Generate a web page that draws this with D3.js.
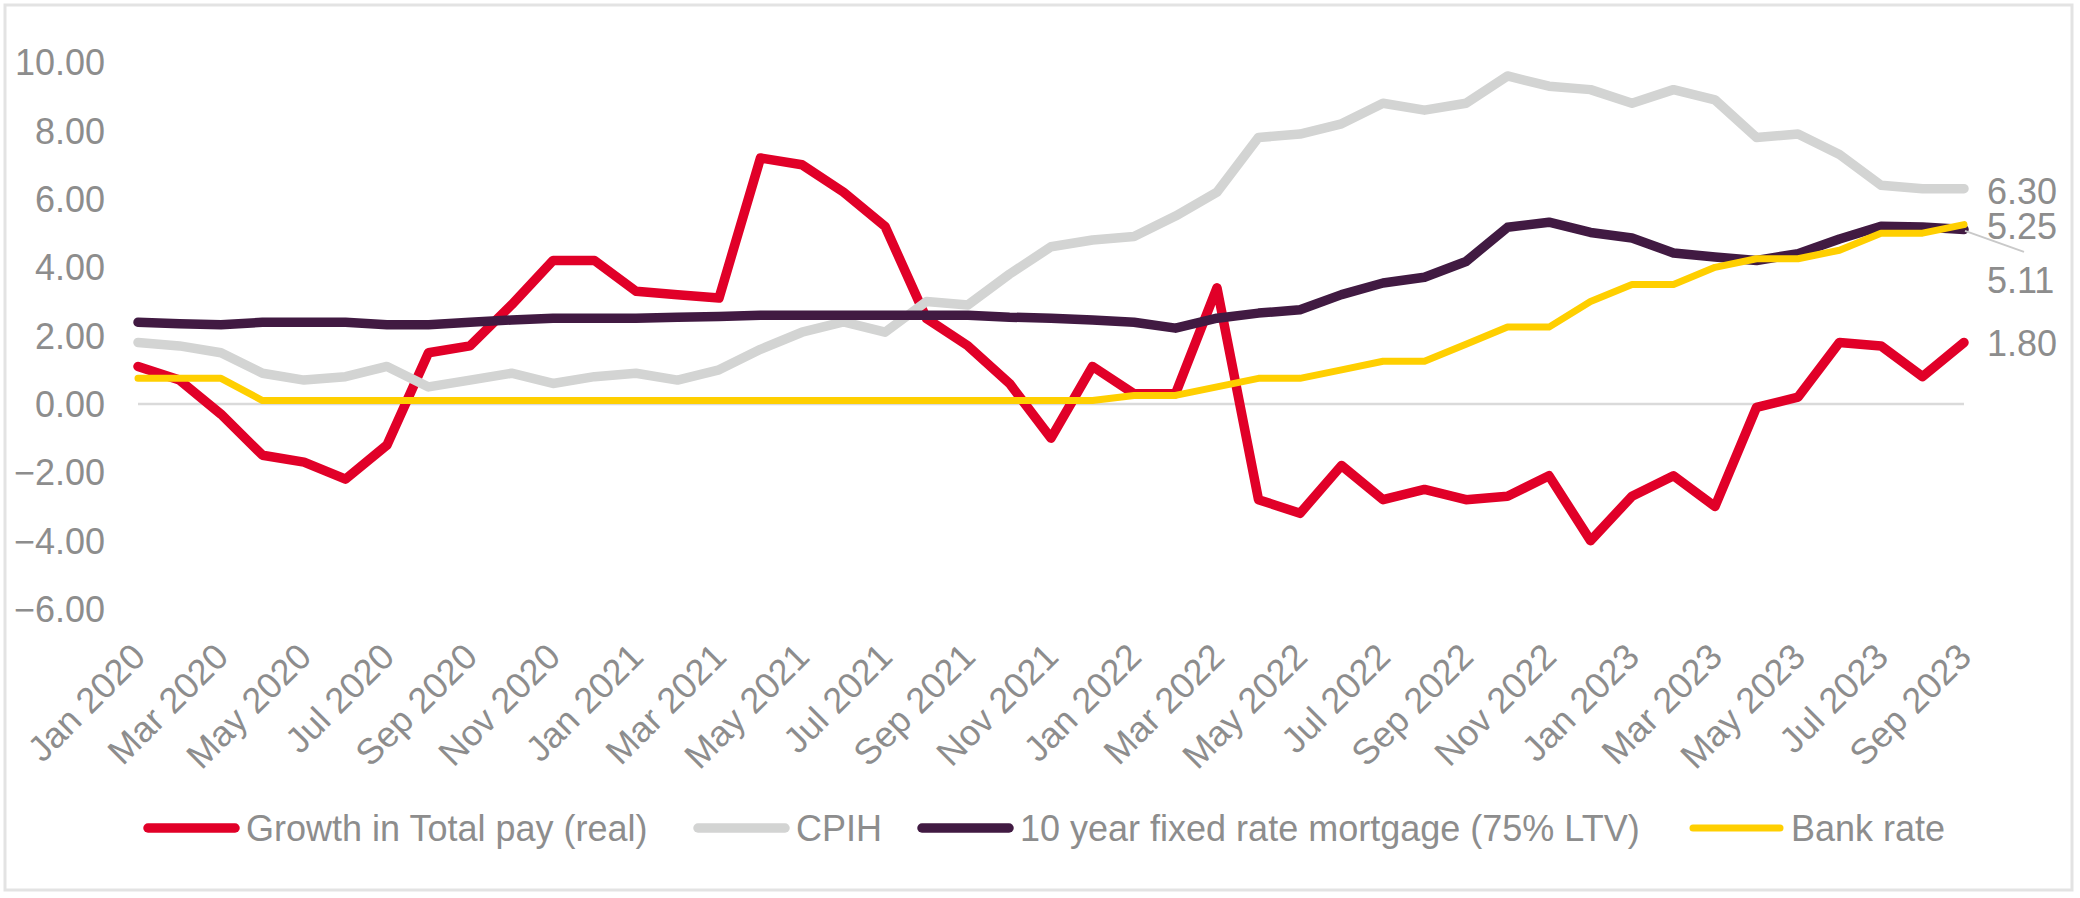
<!DOCTYPE html>
<html>
<head>
<meta charset="utf-8">
<script src="https://cdn.jsdelivr.net/npm/d3@7"></script>
<style>
  html, body { margin: 0; padding: 0; background: #fff; }
  svg { display: block; }
  text { font-family: "Liberation Sans", Arial, sans-serif; fill: #8d8d8d; }
</style>
</head>
<body>
<svg id="chart" width="2080" height="898"></svg>
<script>
const months = [
  "Jan 2020","Feb 2020","Mar 2020","Apr 2020","May 2020","Jun 2020","Jul 2020","Aug 2020","Sep 2020","Oct 2020","Nov 2020","Dec 2020",
  "Jan 2021","Feb 2021","Mar 2021","Apr 2021","May 2021","Jun 2021","Jul 2021","Aug 2021","Sep 2021","Oct 2021","Nov 2021","Dec 2021",
  "Jan 2022","Feb 2022","Mar 2022","Apr 2022","May 2022","Jun 2022","Jul 2022","Aug 2022","Sep 2022","Oct 2022","Nov 2022","Dec 2022",
  "Jan 2023","Feb 2023","Mar 2023","Apr 2023","May 2023","Jun 2023","Jul 2023","Aug 2023","Sep 2023"
];
const tickLabels = ["Jan 2020","Mar 2020","May 2020","Jul 2020","Sep 2020","Nov 2020","Jan 2021","Mar 2021","May 2021","Jul 2021",
  "Sep 2021","Nov 2021","Jan 2022","Mar 2022","May 2022","Jul 2022","Sep 2022","Nov 2022","Jan 2023","Mar 2023","May 2023","Jul 2023","Sep 2023"];
const yTicks = [-6, -4, -2, 0, 2, 4, 6, 8, 10];

const totalPay = [1.1,0.7,-0.3,-1.5,-1.7,-2.2,-1.2,1.5,1.7,2.9,4.2,4.2,
  3.3,3.2,3.1,7.2,7.0,6.2,5.2,2.5,1.7,0.6,-1.0,1.1,
  0.3,0.3,3.4,-2.8,-3.2,-1.8,-2.8,-2.5,-2.8,-2.7,-2.1,-4.0,
  -2.7,-2.1,-3.0,-0.1,0.2,1.8,1.7,0.8,1.8];
const cpih = [1.8,1.7,1.5,0.9,0.7,0.8,1.1,0.5,0.7,0.9,0.6,0.8,
  0.9,0.7,1.0,1.6,2.1,2.4,2.1,3.0,2.9,3.8,4.6,4.8,
  4.9,5.5,6.2,7.8,7.9,8.2,8.8,8.6,8.8,9.6,9.3,9.2,
  8.8,9.2,8.9,7.8,7.9,7.3,6.4,6.3,6.3];
const mortgage = [2.39,2.35,2.32,2.39,2.39,2.39,2.32,2.32,2.39,2.46,2.51,2.51,
  2.51,2.54,2.56,2.6,2.6,2.6,2.6,2.6,2.6,2.54,2.51,2.46,
  2.39,2.22,2.51,2.66,2.76,3.2,3.54,3.71,4.17,5.17,5.32,5.02,
  4.86,4.42,4.3,4.2,4.4,4.83,5.2,5.18,5.11];
const bankRate = [0.75,0.75,0.75,0.1,0.1,0.1,0.1,0.1,0.1,0.1,0.1,0.1,
  0.1,0.1,0.1,0.1,0.1,0.1,0.1,0.1,0.1,0.1,0.1,0.1,
  0.25,0.25,0.5,0.75,0.75,1.0,1.25,1.25,1.75,2.25,2.25,3.0,
  3.5,3.5,4.0,4.25,4.25,4.5,5.0,5.0,5.25];
const seriesNames = ["Growth in Total pay (real)", "CPIH", "10 year fixed rate mortgage (75% LTV)", "Bank rate"];
const endLabels = ["1.80", "6.30", "5.11", "5.25"];

const series = [
  { name: seriesNames[0], values: totalPay, color: "#e10028", width: 9.5 },
  { name: seriesNames[1], values: cpih,     color: "#d3d4d3", width: 9.5 },
  { name: seriesNames[2], values: mortgage, color: "#411a42", width: 9.5 },
  { name: seriesNames[3], values: bankRate, color: "#ffcf00", width: 7 }
];

const svg = d3.select("#chart");
const FONT = 36;

// border
svg.append("rect").attr("x", 5).attr("y", 5).attr("width", 2067).attr("height", 885)
  .attr("fill", "#fff").attr("stroke", "#e3e3e3").attr("stroke-width", 3);

const x = d3.scalePoint().domain(months).range([138, 1964]);
const y = d3.scaleLinear().domain([-6, 10]).range([609, 62.3]);

// y axis labels
const yAxis = d3.axisLeft(y).tickValues(yTicks).tickFormat(d3.format(".2f")).tickSize(0).tickPadding(0);
const gy = svg.append("g").attr("transform", "translate(105,0)").call(yAxis);
gy.select(".domain").remove();
gy.selectAll("text").attr("font-size", FONT).attr("fill", "#8d8d8d")
  .attr("font-family", "Liberation Sans, Arial, sans-serif").attr("dy", "0.35em");

// zero line
svg.append("line").attr("x1", x(months[0])).attr("x2", x(months[months.length - 1]))
  .attr("y1", y(0)).attr("y2", y(0)).attr("stroke", "#dadada").attr("stroke-width", 2.5);

// x axis labels
const xAxis = d3.axisBottom(x).tickValues(tickLabels).tickSize(0).tickPadding(0);
const gx = svg.append("g").attr("transform", "translate(0,650)").call(xAxis);
gx.select(".domain").remove();
gx.selectAll(".tick text")
  .attr("font-size", FONT).attr("fill", "#8d8d8d")
  .attr("font-family", "Liberation Sans, Arial, sans-serif")
  .attr("text-anchor", "end")
  .attr("y", 0).attr("dy", "0.35em")
  .attr("transform", "rotate(-45)");

// lines
const line = d3.line().x((d, i) => x(months[i])).y(d => y(d));
series.forEach(s => {
  svg.append("path").datum(s.values).attr("d", line)
    .attr("fill", "none").attr("stroke", s.color).attr("stroke-width", s.width)
    .attr("stroke-linejoin", "round").attr("stroke-linecap", "round");
});

// end labels
const last = months.length - 1;
const lx = x(months[last]) + 23;
// CPIH
svg.append("text").attr("x", lx).attr("y", y(cpih[last]) + 3).attr("dy", "0.35em").attr("font-size", FONT).text(endLabels[1]);
// Bank rate
svg.append("text").attr("x", lx).attr("y", y(bankRate[last]) + 1.5).attr("dy", "0.35em").attr("font-size", FONT).text(endLabels[3]);
// Total pay
svg.append("text").attr("x", lx).attr("y", y(totalPay[last]) + 0.5).attr("dy", "0.35em").attr("font-size", FONT).text(endLabels[0]);
// Mortgage with leader line
svg.append("line").attr("x1", x(months[last]) + 1).attr("y1", y(mortgage[last]) + 1.5)
  .attr("x2", x(months[last]) + 60).attr("y2", y(mortgage[last]) + 22.5)
  .attr("stroke", "#c9c9c9").attr("stroke-width", 2);
svg.append("text").attr("x", lx).attr("y", y(mortgage[last]) + 51).attr("dy", "0.35em").attr("font-size", FONT).text(endLabels[2]);

// legend
const legendX = [143, 693, 917, 1688];
const legendY = 828;
series.forEach((s, i) => {
  const g = svg.append("g").attr("transform", `translate(${legendX[i]},${legendY})`);
  g.append("line").attr("x1", 5).attr("x2", 92).attr("y1", 0).attr("y2", 0)
    .attr("stroke", s.color).attr("stroke-width", s.width)
    .attr("stroke-linecap", "round");
  g.append("text").attr("x", 103).attr("y", 0).attr("dy", "0.35em")
    .attr("font-size", FONT).text(s.name);
});
</script>
</body>
</html>
